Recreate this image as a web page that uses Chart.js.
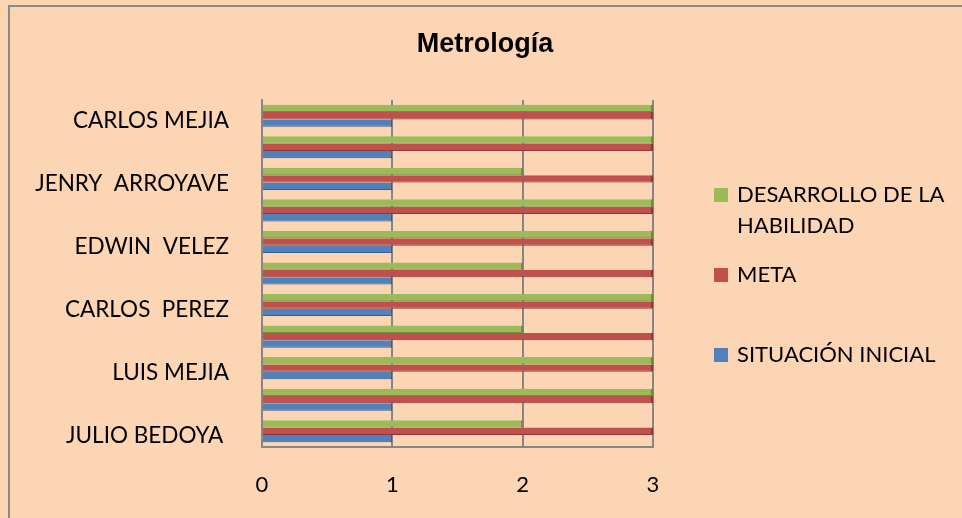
<!DOCTYPE html>
<html>
<head>
<meta charset="utf-8">
<title>Metrología</title>
<script src="https://cdn.jsdelivr.net/npm/chart.js@4.4.1/dist/chart.umd.min.js"></script>
<style>
  html, body { margin: 0; padding: 0; background: #fcd5b4; }
  canvas { display: block; }
</style>
</head>
<body>
<canvas id="myChart" width="962" height="518"></canvas>
<script>
// categories top to bottom, only every other name is printed on the axis
var categories = ["CARLOS MEJIA", "", "JENRY  ARROYAVE", "", "EDWIN  VELEZ", "", "CARLOS  PEREZ", "", "LUIS MEJIA", "", "JULIO BEDOYA "];
var desarrollo = [3, 3, 2, 3, 3, 2, 3, 2, 3, 3, 2];
var meta = [3, 3, 3, 3, 3, 3, 3, 3, 3, 3, 3];
var situacion = [1, 1, 1, 1, 1, 1, 1, 1, 1, 1, 1];
var seriesNames = ["DESARROLLO DE LA HABILIDAD", "META", "SITUACIÓN INICIAL"];
var xTicks = [0, 1, 2, 3];
var chartTitle = "Metrología";

var fontName = "Lato, 'Open Sans', sans-serif";
Chart.defaults.font.family = fontName;
Chart.defaults.color = "#000";

// peach background, the two visible frame edges and the title
var frame = {
    id: "frame",
    beforeDraw: function (chart) {
        var ctx = chart.ctx;
        ctx.save();
        ctx.fillStyle = "#fcd5b4";
        ctx.fillRect(0, 0, chart.width, chart.height);
        ctx.strokeStyle = "#8a8a8a";
        ctx.lineWidth = 2;
        ctx.beginPath();
        ctx.moveTo(9, chart.height);
        ctx.lineTo(9, 6);
        ctx.lineTo(chart.width, 6);
        ctx.stroke();
        ctx.font = "bold 27px 'Liberation Sans', Arial, sans-serif";
        ctx.fillStyle = "#000";
        ctx.textAlign = "center";
        ctx.textBaseline = "middle";
        ctx.fillText(chartTitle, 485, 45);
        ctx.restore();
    }
};

// legend on the right, text wrapped like the original
var sideLegend = {
    id: "sideLegend",
    afterDraw: function (chart) {
        var ctx = chart.ctx;
        var rows = [195, 275, 355];
        ctx.save();
        ctx.font = "22px " + fontName;
        ctx.textBaseline = "middle";
        ctx.textAlign = "left";
        chart.data.datasets.forEach(function (ds, i) {
            var words = ds.label.split(" ");
            var lines = [];
            var line = "";
            words.forEach(function (w) {
                var test = line ? line + " " + w : w;
                if (ctx.measureText(test).width > 220 && line) {
                    lines.push(line);
                    line = w;
                } else {
                    line = test;
                }
            });
            lines.push(line);
            ctx.fillStyle = ds.backgroundColor;
            ctx.fillRect(714, rows[i] - 7, 14, 14);
            ctx.fillStyle = "#000";
            lines.forEach(function (l, j) {
                ctx.fillText(l, 737, rows[i] + j * 31);
            });
        });
        ctx.restore();
    }
};

new Chart("myChart", {
    type: "bar",
    data: {
        labels: categories,
        datasets: [{
            label: seriesNames[0],
            data: desarrollo,
            backgroundColor: "#9bbb59",
            borderColor: "#71893f",
            borderWidth: { top: 0, right: 2, bottom: 1, left: 0 }
        }, {
            label: seriesNames[1],
            data: meta,
            backgroundColor: "#c0504d",
            borderColor: "#8c3836",
            borderWidth: { top: 0, right: 2, bottom: 1, left: 0 }
        }, {
            label: seriesNames[2],
            data: situacion,
            backgroundColor: "#4f81bd",
            borderColor: "#385d8a",
            borderWidth: { top: 0, right: 2, bottom: 1, left: 0 }
        }]
    },
    options: {
        indexAxis: "y",
        responsive: false,
        animation: false,
        layout: {
            padding: { left: 0, right: 309, top: 100, bottom: 0 }
        },
        datasets: {
            bar: {
                categoryPercentage: 0.7,
                barPercentage: 1
            }
        },
        plugins: {
            legend: { display: false },
            tooltip: { enabled: false },
            title: { display: false }
        },
        scales: {
            x: {
                min: 0,
                max: 3,
                afterBuildTicks: function (scale) {
                    scale.ticks = xTicks.map(function (v) { return { value: v }; });
                },
                afterFit: function (scale) { scale.height = 71; },
                grid: { color: "#868686", lineWidth: 2, drawTicks: false },
                border: { display: true, color: "#868686", width: 2 },
                ticks: { padding: 25, font: { size: 22 } }
            },
            y: {
                afterFit: function (scale) { scale.width = 262; },
                grid: { display: false, drawTicks: false },
                border: { display: true, color: "#868686", width: 2 },
                ticks: { autoSkip: false, padding: 33, labelOffset: 5, font: { size: 22.5 } }
            }
        }
    },
    plugins: [frame, sideLegend]
});
</script>
</body>
</html>
